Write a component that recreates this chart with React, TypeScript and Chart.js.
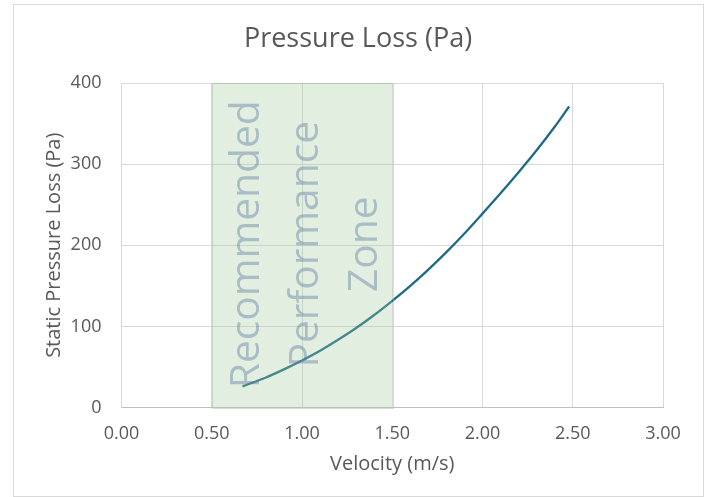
import React, { useEffect, useRef } from "react";
import { Chart, registerables } from "chart.js";

Chart.register(...registerables);

const velocity = [0.67, 0.8, 0.9, 1.0, 1.1, 1.2, 1.3, 1.4, 1.5, 1.6, 1.7, 1.8, 1.9, 2.0, 2.1, 2.2, 2.3, 2.4, 2.48];
const pressure = [26, 37, 47, 58, 70, 83.5, 98, 114, 131.5, 150, 170, 191.5, 214.5, 239, 264, 290, 317, 346, 371];
const xTicks = [0, 0.5, 1, 1.5, 2, 2.5, 3];
const yTicks = [0, 100, 200, 300, 400];
const zoneRange = [0.5, 1.5];
const zoneLines = ["Recommended", "Performance", "Zone"];

const TEXT = "#595959";
const FONT = "'Open Sans', sans-serif";

const framePlugin = {
  id: "frame",
  beforeDraw(chart: any) {
    const { ctx, width, height } = chart;
    ctx.save();
    ctx.fillStyle = "#ffffff";
    ctx.fillRect(0, 0, width, height);
    ctx.strokeStyle = "#d9d9d9";
    ctx.lineWidth = 1;
    ctx.strokeRect(13.5, 4.5, 690, 492);
    ctx.restore();
  },
};

const zonePlugin = {
  id: "zone",
  afterDatasetsDraw(chart: any) {
    const { ctx, scales } = chart;
    const x = scales.x;
    const y = scales.y;
    const x0 = x.getPixelForValue(zoneRange[0]);
    const x1 = x.getPixelForValue(zoneRange[1]);
    const top = y.getPixelForValue(yTicks[yTicks.length - 1]);
    const bottom = y.getPixelForValue(yTicks[0]);
    ctx.save();
    ctx.fillStyle = "rgba(158,202,152,0.30)";
    ctx.fillRect(x0, top, x1 - x0, bottom - top);
    ctx.strokeStyle = "rgba(150,190,150,0.45)";
    ctx.lineWidth = 1;
    ctx.strokeRect(Math.round(x0) + 0.5, Math.round(top) + 0.5, Math.round(x1 - x0), Math.round(bottom - top));

    const cx = (x0 + x1) / 2 + 4;
    const cy = (top + bottom) / 2 - 1;
    ctx.translate(cx, cy);
    ctx.rotate(-Math.PI / 2);
    let size = 44;
    ctx.font = `${size}px ${FONT}`;
    const w = ctx.measureText(zoneLines[0]).width;
    size = (size * 288) / w;
    ctx.font = `${size}px ${FONT}`;
    ctx.fillStyle = "rgba(90,120,160,0.42)";
    ctx.textAlign = "center";
    ctx.textBaseline = "middle";
    const lh = 59;
    zoneLines.forEach((t, i) => {
      ctx.fillText(t, 0, (i - (zoneLines.length - 1) / 2) * lh);
    });
    ctx.restore();
  },
};

export default function App() {
  const ref = useRef<HTMLCanvasElement | null>(null);

  useEffect(() => {
    if (!ref.current) return;
    const chart = new Chart(ref.current, {
      type: "scatter",
      data: {
        datasets: [
          {
            label: "Pressure Loss (Pa)",
            data: velocity.map((v, i) => ({ x: v, y: pressure[i] })),
            showLine: true,
            borderColor: "#1e6b87",
            backgroundColor: "#1e6b87",
            borderWidth: 2.3,
            pointRadius: 0,
            cubicInterpolationMode: "monotone",
            yAxisID: "y",
          },
        ],
      },
      options: {
        animation: false,
        responsive: false,
        devicePixelRatio: 1,
        layout: { padding: { left: 8, right: 0, top: 0, bottom: 0 } },
        plugins: {
          legend: { display: false },
          tooltip: { enabled: false },
          title: {
            display: true,
            text: "Pressure Loss (Pa)",
            color: TEXT,
            font: { family: FONT, size: 27, weight: "normal", lineHeight: 1.2 },
            padding: { top: 23.5, bottom: 27.1 },
          },
        },
        scales: {
          x: {
            type: "linear",
            min: xTicks[0],
            max: xTicks[xTicks.length - 1],
            afterBuildTicks: (s: any) => {
              s.ticks = xTicks.map((v) => ({ value: v }));
            },
            afterFit: (s: any) => {
              s.height = 89.5;
            },
            ticks: {
              color: TEXT,
              font: { family: FONT, size: 18 },
              padding: 16,
              maxRotation: 0,
              callback: (v: any) => Number(v).toFixed(2),
            },
            grid: { color: "#d9d9d9", drawTicks: false },
            border: { color: "#bfbfbf" },
            title: {
              display: true,
              text: "Velocity (m/s)",
              color: TEXT,
              font: { family: FONT, size: 20 },
              padding: { top: 0, bottom: 21 },
            },
          },
          y: {
            type: "linear",
            position: "left",
            min: yTicks[0],
            max: yTicks[yTicks.length - 1],
            afterBuildTicks: (s: any) => {
              s.ticks = yTicks.map((v) => ({ value: v }));
            },
            afterFit: (s: any) => {
              s.width = 113.5;
            },
            ticks: {
              color: TEXT,
              font: { family: FONT, size: 18 },
              padding: 20,
            },
            grid: { color: "#d9d9d9", drawTicks: false },
            border: { color: "#d9d9d9" },
            title: {
              display: true,
              text: "Static Pressure Loss (Pa)",
              color: TEXT,
              font: { family: FONT, size: 20 },
              padding: { top: 34.5, bottom: 0 },
            },
          },
          yRight: {
            type: "linear",
            position: "right",
            display: true,
            min: 0,
            max: 1,
            afterFit: (s: any) => {
              s.width = 45;
            },
            ticks: { display: false },
            grid: { display: false, drawOnChartArea: false },
            border: { display: false },
          },
        },
      },
      plugins: [framePlugin, zonePlugin],
    });
    return () => chart.destroy();
  }, []);

  return (
    <div style={{ position: "absolute", left: 0, top: 0, width: 708, height: 497 }}>
      <canvas ref={ref} width={708} height={497} style={{ width: 708, height: 497, display: "block" }} />
    </div>
  );
}
